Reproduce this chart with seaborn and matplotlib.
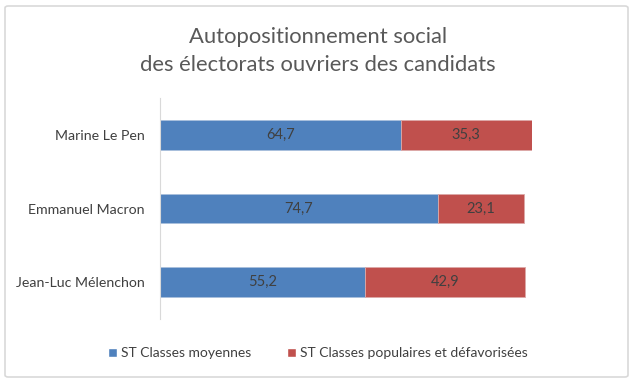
import matplotlib
matplotlib.use("Agg")
import matplotlib.pyplot as plt
import seaborn as sns
import pandas as pd
from matplotlib.patches import FancyBboxPatch, Patch

# data
candidates = ["Marine Le Pen", "Emmanuel Macron", "Jean-Luc Mélenchon"]
moyennes = [64.7, 74.7, 55.2]
populaires = [35.3, 23.1, 42.9]
series_names = ["ST Classes moyennes", "ST Classes populaires et défavorisées"]

blue = "#4F81BD"
red = "#C0504D"
txt = "#404040"

sns.set_theme(style="white")
plt.rcParams['font.family'] = ['Lato', 'DejaVu Sans']

df = pd.DataFrame({"cand": candidates, "moy": moyennes, "pop": populaires})

fig = plt.figure(figsize=(6.36, 3.85), dpi=100)
ax = fig.add_axes([160 / 636, 1 - 319 / 385, (532 - 160) / 636, (319 - 98) / 385])

sns.barplot(data=df, x="moy", y="cand", color=blue, orient="h", width=0.4,
            saturation=1, edgecolor="#a9bfdc", linewidth=0.6, ax=ax)
ax.barh(df["cand"], df["pop"], left=df["moy"], height=0.4, color=red,
        edgecolor="#dca9a8", linewidth=0.6)

for cont in ax.containers:
    ax.bar_label(cont, labels=[f"{v:.1f}".replace(".", ",") for v in cont.datavalues],
                 label_type="center", color=txt, fontsize=10.5)

ax.set_xlim(0, 100)
ax.set_ylim(2.5, -0.5)
ax.set_xlabel("")
ax.set_ylabel("")
ax.set_xticks([])
ax.tick_params(axis="y", length=0, pad=11, labelsize=10.2, labelcolor=txt)
for s in ["top", "right", "bottom"]:
    ax.spines[s].set_visible(False)
ax.spines["left"].set_color("#d9d9d9")
ax.spines["left"].set_linewidth(0.8)

fig.text(0.5, 1 - 51 / 385, "Autopositionnement social\ndes électorats ouvriers des candidats",
         ha="center", va="center", fontsize=15.8, color="#595959", linespacing=1.45)

# legend
handles = [Patch(facecolor=blue), Patch(facecolor=red)]
fig.legend(handles, series_names, loc="center", bbox_to_anchor=(0.5, 1 - 353 / 385),
           ncol=2, frameon=False, fontsize=10, labelcolor=txt, handlelength=0.6,
           handleheight=0.6, handletextpad=0.3, columnspacing=2.6)

# outer frame
frame = FancyBboxPatch((5 / 636, 1 - 377 / 385), 623 / 636, 371 / 385,
                       boxstyle="round,pad=0,rounding_size=0.005", transform=fig.transFigure,
                       facecolor="none", edgecolor="#d9d9d9", linewidth=1.2)
fig.patches.append(frame)

fig.savefig("out.png", dpi=100)
